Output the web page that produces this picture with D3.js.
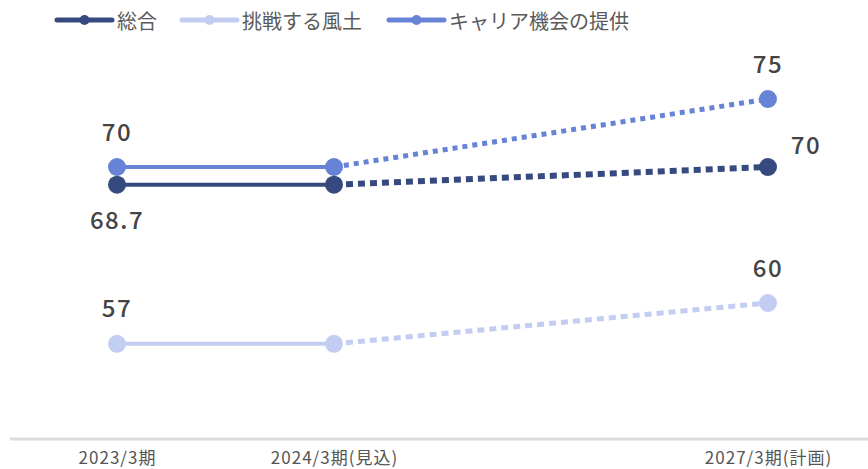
<!DOCTYPE html>
<html>
<head>
<meta charset="utf-8">
<script src="https://cdn.jsdelivr.net/npm/d3@7"></script>
<style>
  body { margin: 0; background: #fff; }
  text { font-family: "Noto Sans CJK JP", "Noto Sans", sans-serif; }
</style>
</head>
<body>
<div class="chart"></div>
<script>
//data
const periods = ["2023/3期", "2024/3期(見込)", "2027/3期(計画)"],
  periodSlot = [0, 1, 3], // 2025, 2026 are skipped but keep their space
  seriesNames = ["総合", "挑戦する風土", "キャリア機会の提供"],
  sogo = [68.7, 68.7, 70],
  chosen = [57, 57, 60],
  career = [70, 70, 75];

const colors = ["#364a7f", "#c2cdf1", "#6683d5"];

const width = 868, height = 469;

const svg = d3.select(".chart").append("svg")
  .attr("width", width)
  .attr("height", height);

const x = d3.scaleLinear().domain([0, 3]).range([117, 768]);
const y = d3.scaleLinear().domain([50, 80]).range([439, 31]);

// bottom axis
const xAxis = d3.axisBottom(x)
  .tickValues(periodSlot)
  .tickSize(0)
  .tickPadding(13)
  .tickFormat((d, i) => periods[i]);

svg.append("line")
  .attr("x1", 10).attr("x2", width)
  .attr("y1", y(50)).attr("y2", y(50))
  .attr("stroke", "#dcdcdc").attr("stroke-width", 3);

const ax = svg.append("g")
  .attr("transform", "translate(0," + y(50) + ")")
  .call(xAxis);
ax.select(".domain").remove();
ax.selectAll("text")
  .style("font-size", "17px")
  .style("letter-spacing", "1px")
  .style("fill", "#555")
  .style("font-family", "'Noto Sans CJK JP', sans-serif");

const series = [
  { name: seriesNames[0], values: sogo, color: colors[0], dash: "7,5", dw: 6 },
  { name: seriesNames[1], values: chosen, color: colors[1], dash: "7,5", dw: 5 },
  { name: seriesNames[2], values: career, color: colors[2], dash: "5,5", dw: 5 }
];

const line = d3.line().x(d => x(d.s)).y(d => y(d.v));

// draw: light first, then career, then total on top
[1, 2, 0].forEach(k => {
  const s = series[k];
  const pts = s.values.map((v, i) => ({ s: periodSlot[i], v: v }));
  // actual part
  svg.append("path")
    .datum(pts.slice(0, 2))
    .attr("d", line)
    .attr("fill", "none")
    .attr("stroke", s.color)
    .attr("stroke-width", 4);
  // plan part
  svg.append("path")
    .datum(pts.slice(1, 3))
    .attr("d", line)
    .attr("fill", "none")
    .attr("stroke", s.color)
    .attr("stroke-width", s.dw)
    .attr("stroke-dasharray", s.dash);
  svg.append("g").selectAll("circle")
    .data(pts)
    .enter().append("circle")
    .attr("cx", d => x(d.s))
    .attr("cy", d => y(d.v))
    .attr("r", 9)
    .attr("fill", s.color);
});

// value labels
const labels = [
  { s: 0, v: career[0], dx: 0, dy: -33 },
  { s: 0, v: sogo[0], dx: 0, dy: 38 },
  { s: 3, v: career[2], dx: 0, dy: -33 },
  { s: 3, v: sogo[2], dx: 38, dy: -20 },
  { s: 0, v: chosen[0], dx: 0, dy: -33 },
  { s: 3, v: chosen[2], dx: 0, dy: -33 }
];
svg.append("g").selectAll("text")
  .data(labels)
  .enter().append("text")
  .attr("x", d => x(d.s) + d.dx)
  .attr("y", d => y(d.v) + d.dy)
  .attr("text-anchor", "middle")
  .attr("dominant-baseline", "middle")
  .style("font-size", "24px")
  .style("letter-spacing", "1.5px")
  .style("font-weight", "500")
  .style("fill", "#444")
  .text(d => d.v);

// legend
const legendX = [57, 182, 389];
const legend = svg.append("g").attr("id", "legend");
series.forEach((s, i) => {
  const g = legend.append("g").attr("transform", "translate(" + legendX[i] + ",20)");
  g.append("line").attr("x1", 0).attr("x2", 55)
    .attr("stroke", s.color).attr("stroke-width", 5).attr("stroke-linecap", "round");
  g.append("circle").attr("cx", 27.5).attr("r", 5).attr("fill", s.color);
  g.append("text").attr("x", 60).attr("dominant-baseline", "central")
    .style("font-size", "20px").style("fill", "#5a5a5a").text(s.name);
});
</script>
</body>
</html>
